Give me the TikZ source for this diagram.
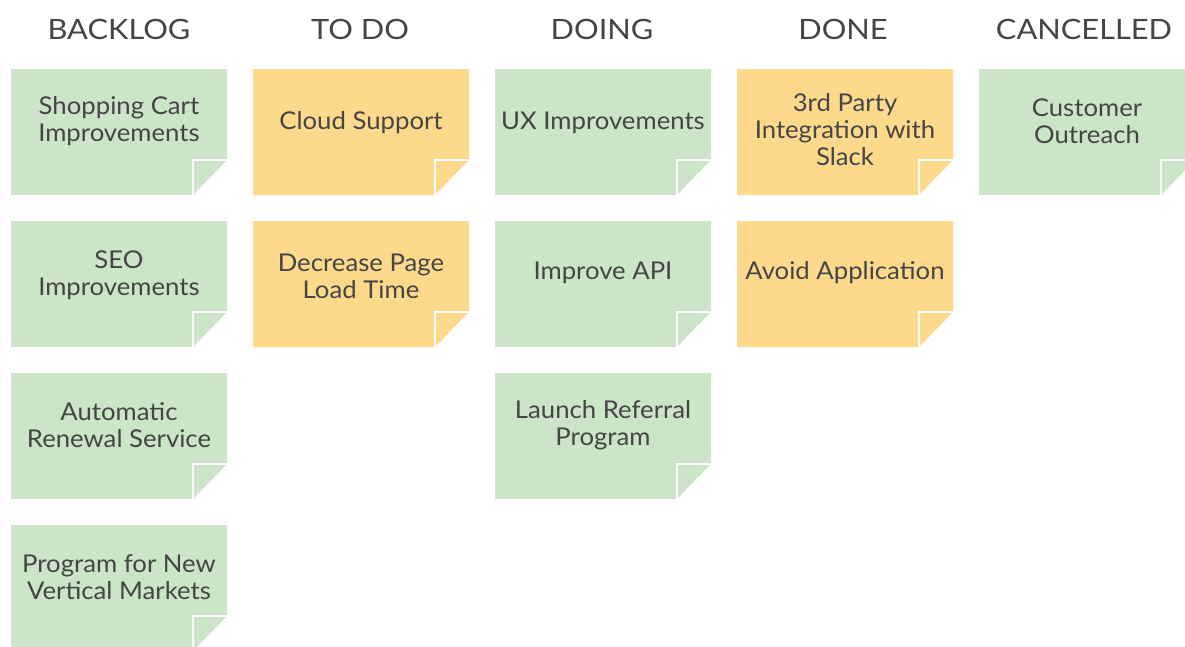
\documentclass[tikz,border=0pt]{standalone}
\usepackage{fontspec}
\setmainfont{Lato}
\newfontfamily\notefont[FakeStretch=1.05]{Lato}
\newfontfamily\headfont[FakeStretch=1.1]{Lato}
\definecolor{notegreen}{HTML}{CCE5C8}
\definecolor{noteyellow}{HTML}{FDD98B}
\definecolor{inktext}{HTML}{454545}
\tikzset{
  notetext/.style={text=inktext, align=center, font=\notefont\fontsize{24.5}{27}\selectfont, inner sep=0pt},
  headtext/.style={text=inktext, font=\headfont\fontsize{28}{30}\selectfont, inner sep=0pt},
  foldline/.style={draw=white, line width=2pt},
}
% #1 name, #2 left x, #3 top y, #4 colour, #5 text offset, #6 text
\newcommand\stickynote[6]{%
  \fill[#4] (#2,#3) -- ++(216,0) -- ++(0,91) -- ++(-34,35) -- ++(-182,0) -- cycle;
  \draw[foldline] (#2+182,#3+126) -- ++(0,-35) -- ++(34,0);
  \node[notetext] (#1) at (#2+108,#3+#5) {#6};
}
\begin{document}
\begin{tikzpicture}[x=1pt,y=-1pt]
\useasboundingbox (0,0) rectangle (1185,646);
\clip (0,0) rectangle (1185,646);
\node[headtext] (hbacklog) at (119,29) {BACKLOG};
\node[headtext] (htodo) at (360,29) {TO DO};
\node[headtext] (hdoing) at (602,29) {DOING};
\node[headtext] (hdone) at (843,29) {DONE};
\node[headtext] (hcancelled) at (1084,29) {CANCELLED};

\stickynote{n11}{11}{69}{notegreen}{52.5}{Shopping Cart\\Improvements}
\stickynote{n12}{11}{221}{notegreen}{54.5}{SEO\\Improvements}
\stickynote{n13}{11}{373}{notegreen}{52.5}{Automatic\\Renewal Service}
\stickynote{n14}{11}{525}{notegreen}{52}{Program for New\\Vertical Markets}

\stickynote{n21}{253}{69}{noteyellow}{53.5}{Cloud Support}
\stickynote{n22}{253}{221}{noteyellow}{55}{Decrease Page\\Load Time}

\stickynote{n31}{495}{69}{notegreen}{53.5}{UX Improvements}
\stickynote{n32}{495}{221}{notegreen}{51.5}{Improve API}
\stickynote{n33}{495}{373}{notegreen}{52.5}{Launch Referral\\Program}

\stickynote{n41}{737}{69}{noteyellow}{61}{3rd Party\\Integration with\\Slack}
\stickynote{n42}{737}{221}{noteyellow}{51.5}{Avoid Application}

\stickynote{n51}{979}{69}{notegreen}{52}{Customer\\Outreach}
\end{tikzpicture}
\end{document}
